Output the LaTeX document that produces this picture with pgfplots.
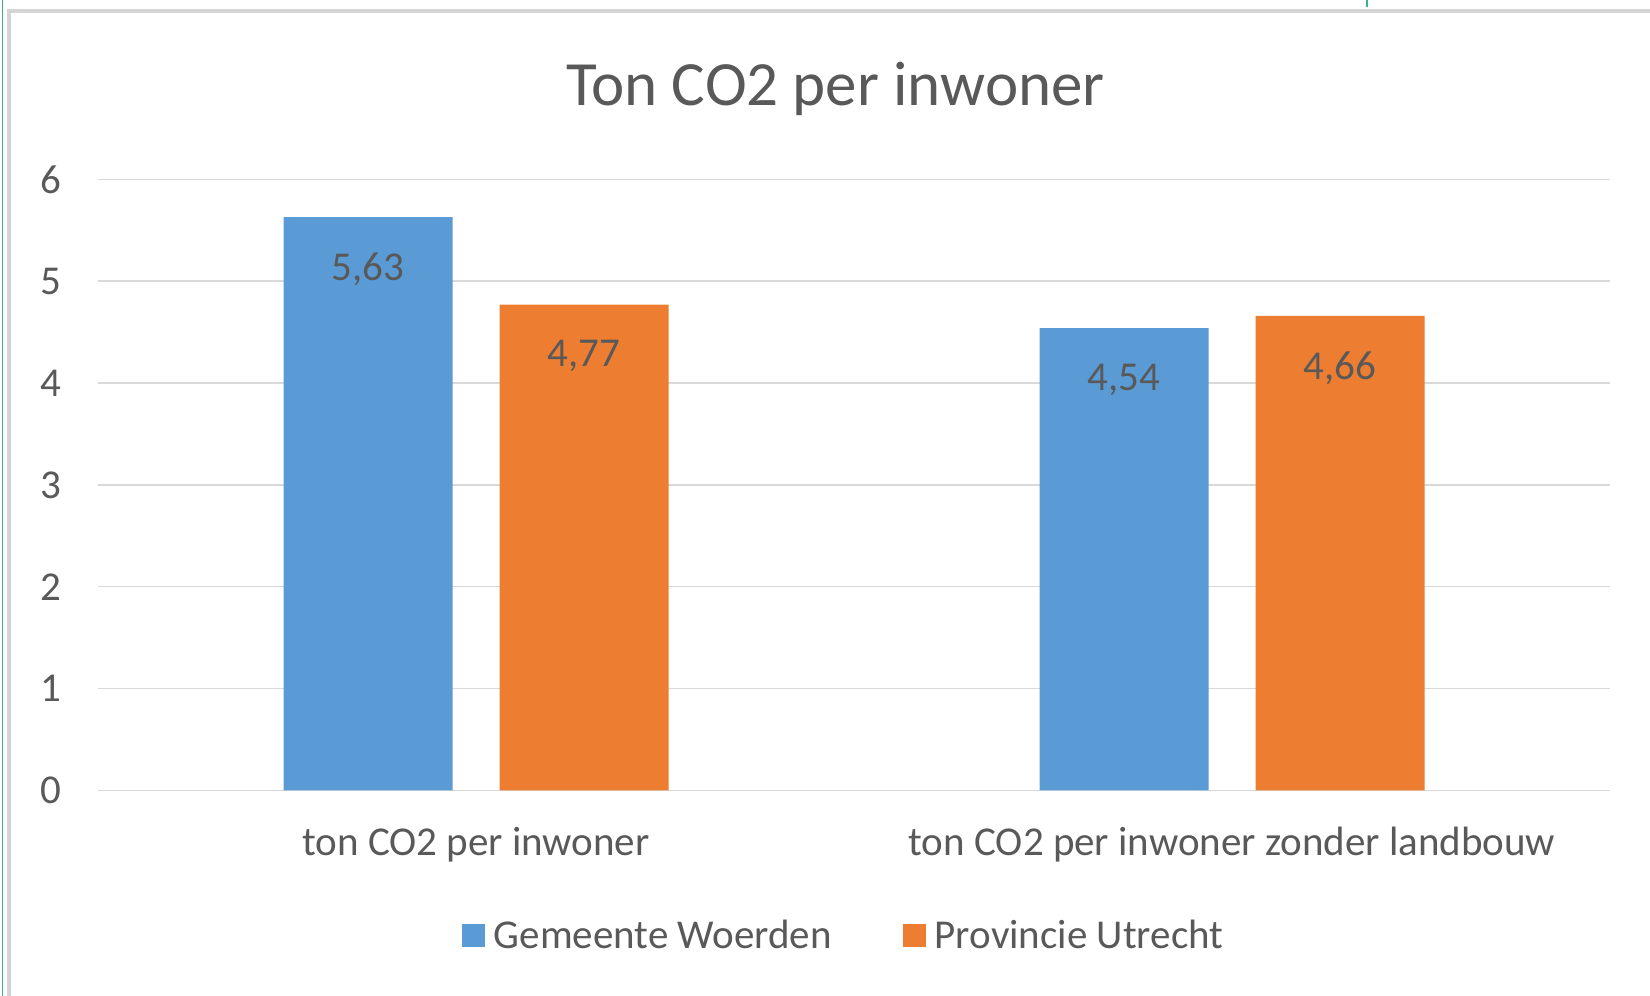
\documentclass[border=0pt]{standalone}
\usepackage{pgfplots}
\pgfplotsset{compat=1.18}
\usepackage{fontspec}
\setmainfont{Carlito}
\definecolor{cblue}{HTML}{5B9BD5}
\definecolor{corange}{HTML}{ED7D31}
\definecolor{ctext}{HTML}{595959}
\definecolor{cgrid}{HTML}{D9D9D9}
\definecolor{cframe}{HTML}{D4D4D4}
\definecolor{cgreen}{HTML}{2EB886}
\newcommand{\sfont}{\fontsize{20.5}{24.6}\selectfont}
\begin{document}
\begin{tikzpicture}
\fill[white] (0,0) rectangle (825pt,498pt);
\useasboundingbox (0,0) rectangle (825pt,498pt);
\draw[cgreen, line width=0.8pt] (1.3pt,0) -- (1.3pt,498pt);
\draw[cgreen, line width=0.8pt] (683.5pt,498pt) -- (683.5pt,494.5pt);
\draw[cframe, line width=2.2pt] (4.6pt,0) -- (4.6pt,492.6pt) -- (825pt,492.6pt);
\begin{axis}[
  at={(49pt,102.8pt)}, anchor=south west,
  scale only axis, width=756pt, height=305.5pt,
  xmin=-0.5, xmax=1.5, ymin=0, ymax=6,
  ybar=23.5pt, bar width=84.5pt,
  xtick={0,1},
  xticklabels={ton CO2 per inwoner, ton CO2 per inwoner zonder landbouw},
  ytick={0,1,2,3,4,5,6},
  axis line style={draw=none},
  major tick length=0pt,
  ymajorgrids, grid style={cgrid, line width=0.75pt},
  /pgf/number format/assume math mode=true,
  tick label style={font=\sfont, text=ctext},
  xticklabel style={anchor=base, inner sep=0pt, yshift=-32.3pt},
  yticklabel style={anchor=east, inner sep=0pt, xshift=-18.3pt},
  point meta=explicit symbolic,
  nodes near coords,
  every node near coord/.append style={anchor=north, inner sep=0pt, yshift=-17.7pt, font=\sfont, text=ctext},
  legend style={at={(0.4954,-0.238)}, anchor=center, draw=none, fill=none,
    font=\sfont, text=ctext,
    /tikz/every even column/.append style={column sep=31pt},
    nodes={inner xsep=4.5pt}},
  legend columns=2,
]
\addplot[fill=cblue, draw=none,
  legend image code/.code={\fill[cblue] (0pt,-5.75pt) rectangle (11.5pt,5.75pt);}]
  coordinates {(0,5.63) [5,63] (1,4.54) [4,54]};
\addplot[fill=corange, draw=none,
  legend image code/.code={\fill[corange] (0pt,-5.75pt) rectangle (11.5pt,5.75pt);}]
  coordinates {(0,4.77) [4,77] (1,4.66) [4,66]};
\legend{Gemeente Woerden, Provincie Utrecht}
\end{axis}
\node[anchor=base, text=ctext, font=\fontsize{31.5}{37}\selectfont] at (417.8pt,445.4pt) {Ton CO2 per inwoner};
\end{tikzpicture}
\end{document}
